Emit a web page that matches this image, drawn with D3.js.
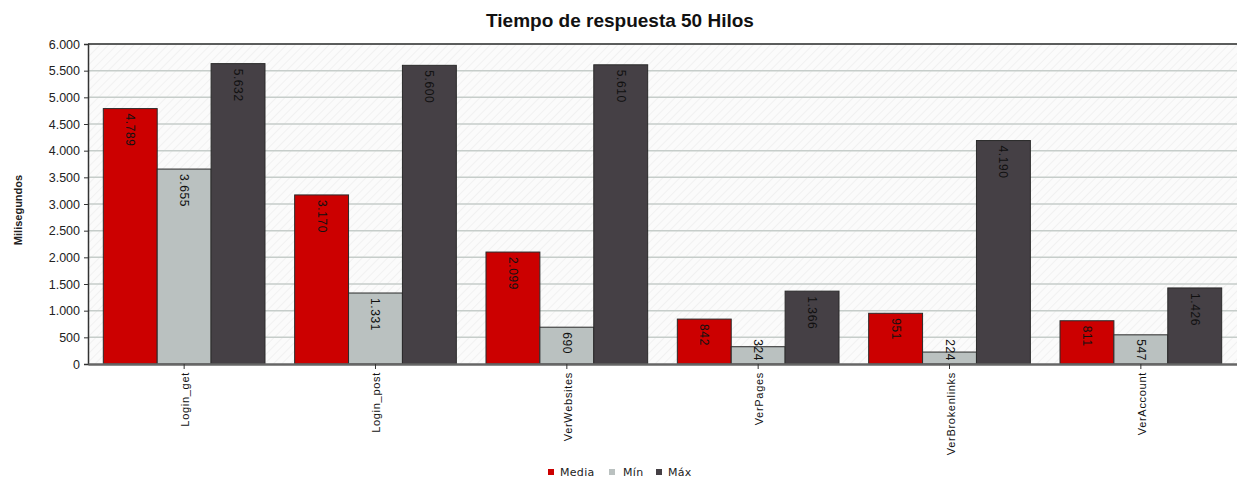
<!DOCTYPE html>
<html>
<head>
<meta charset="utf-8">
<script src="https://cdn.jsdelivr.net/npm/d3@7"></script>
<style>
  body { margin: 0; background: #fff; }
  svg { display: block; font-family: "Liberation Sans", Arial, sans-serif; }
</style>
</head>
<body>
<svg id="chart" width="1237" height="479"></svg>
<script>
// Response times (ms) per request, 50 threads
const categories = ["Login_get", "Login_post", "VerWebsites", "VerPages", "VerBrokenlinks", "VerAccount"];
const seriesNames = ["Media", "Mín", "Máx"];
const media = [4789, 3170, 2099, 842, 951, 811];
const minimo = [3655, 1331, 690, 324, 224, 547];
const maximo = [5632, 5600, 5610, 1366, 4190, 1426];
const yTicks = [0, 500, 1000, 1500, 2000, 2500, 3000, 3500, 4000, 4500, 5000, 5500, 6000];
const colors = ["#cc0000", "#bac1c0", "#454045"];

const series = [media, minimo, maximo];
const svg = d3.select("#chart");
const W = 1237, H = 479;
const m = { top: 44, right: 0, bottom: 115, left: 88 };
const iw = W - m.left - m.right, ih = H - m.top - m.bottom;

const fmt = d3.formatLocale({ decimal: ",", thousands: ".", grouping: [3], currency: ["", ""] }).format(",d");

const x0 = d3.scaleBand().domain(categories).range([m.left, m.left + iw]).paddingInner(0.155).paddingOuter(0.08);
const x1 = d3.scaleBand().domain(seriesNames).range([0, x0.bandwidth()]);
const y = d3.scaleLinear().domain([0, 6000]).range([m.top + ih, m.top]);

// Plot background with faint diagonal hatching
const defs = svg.append("defs");
const pat = defs.append("pattern").attr("id", "hatch").attr("patternUnits", "userSpaceOnUse")
  .attr("width", 6).attr("height", 6).attr("patternTransform", "rotate(45)");
pat.append("rect").attr("width", 6).attr("height", 6).attr("fill", "#fbfbfb");
pat.append("line").attr("x1", 0).attr("y1", 0).attr("x2", 0).attr("y2", 6).attr("stroke", "#f1f1f1").attr("stroke-width", 2);

svg.append("rect").attr("x", m.left).attr("y", m.top).attr("width", iw).attr("height", ih).attr("fill", "url(#hatch)");

// Horizontal grid
svg.append("g").selectAll("line").data(yTicks.filter(d => d > 0)).join("line")
  .attr("x1", m.left).attr("x2", m.left + iw)
  .attr("y1", d => y(d)).attr("y2", d => y(d))
  .attr("stroke", "#c6cdca").attr("stroke-width", 1.5);

// Top border of plot
svg.append("line").attr("x1", m.left).attr("x2", m.left + iw).attr("y1", m.top).attr("y2", m.top)
  .attr("stroke", "#333").attr("stroke-width", 1.5);

// Bars
const groups = svg.append("g").selectAll("g").data(categories).join("g")
  .attr("transform", d => `translate(${x0(d)},0)`);

groups.selectAll("rect").data((c, i) => seriesNames.map((s, k) => ({ s, k, v: series[k][i] }))).join("rect")
  .attr("x", d => x1(d.s))
  .attr("y", d => y(d.v))
  .attr("width", x1.bandwidth())
  .attr("height", d => y(0) - y(d.v))
  .attr("fill", d => colors[d.k])
  .attr("stroke", "#2a2a2a").attr("stroke-width", 1);

// Value labels, rotated, just inside the top of each bar
groups.selectAll("text").data((c, i) => seriesNames.map((s, k) => ({ s, k, v: series[k][i] }))).join("text")
  .text(d => fmt(d.v))
  .attr("font-size", 12)
  .attr("letter-spacing", 0.6)
  .attr("fill", "#111")
  .attr("dominant-baseline", "central")
  .attr("transform", function (d) {
    const len = this.getComputedTextLength();
    let start = y(d.v) + 5;
    const limit = y(0) - 3;
    if (start + len > limit) start = limit - len;
    return `translate(${x1(d.s) + x1.bandwidth() / 2},${start}) rotate(90)`;
  });

// Y axis
const yAxis = svg.append("g").attr("transform", `translate(${m.left},0)`)
  .call(d3.axisLeft(y).tickValues(yTicks).tickFormat(fmt).tickSize(4).tickPadding(4));
yAxis.select(".domain").attr("stroke", "#333").attr("stroke-width", 1.5);
yAxis.selectAll(".tick line").attr("stroke", "#333");
yAxis.selectAll(".tick text").attr("font-size", 12.5).attr("fill", "#222").attr("font-family", "Liberation Sans, Arial, sans-serif");

// X axis
const xAxis = svg.append("g").attr("transform", `translate(0,${y(0)})`)
  .call(d3.axisBottom(x0).tickSize(5).tickSizeOuter(0));
xAxis.select(".domain").attr("stroke", "#666").attr("stroke-width", 2.5);
xAxis.selectAll(".tick line").attr("stroke", "#333");
xAxis.selectAll(".tick text")
  .attr("font-size", 11).attr("letter-spacing", 0.7).attr("fill", "#111").attr("font-family", "Liberation Sans, Arial, sans-serif")
  .attr("text-anchor", "end").attr("dominant-baseline", "central")
  .attr("transform", "translate(1,8) rotate(-90)")
  .attr("x", 0).attr("y", 0).attr("dy", null);

// Title
svg.append("text").attr("x", 620).attr("y", 27).attr("text-anchor", "middle")
  .attr("font-size", 19).attr("font-weight", "bold").attr("fill", "#111")
  .text("Tiempo de respuesta 50 Hilos");

// Y axis title
svg.append("text").attr("transform", `translate(18,${210}) rotate(-90)`)
  .attr("text-anchor", "middle").attr("dominant-baseline", "central")
  .attr("font-size", 11).attr("font-weight", "bold").attr("fill", "#222")
  .text("Milisegundos");

// Legend
const legX = [548, 609, 656];
const leg = svg.append("g").selectAll("g").data(seriesNames).join("g")
  .attr("transform", (d, i) => `translate(${legX[i]},472)`);
leg.append("rect").attr("x", 0).attr("y", -3).attr("width", 6).attr("height", 6)
  .attr("fill", (d, i) => colors[i]);
leg.append("text").attr("x", [12]).attr("y", 0).attr("dominant-baseline", "central")
  .attr("x", (d, i) => [12, 14, 12][i])
  .attr("font-size", 11).attr("letter-spacing", 0.3).attr("fill", "#222")
  .attr("font-family", "'DejaVu Sans', sans-serif")
  .text(d => d);
</script>
</body>
</html>
